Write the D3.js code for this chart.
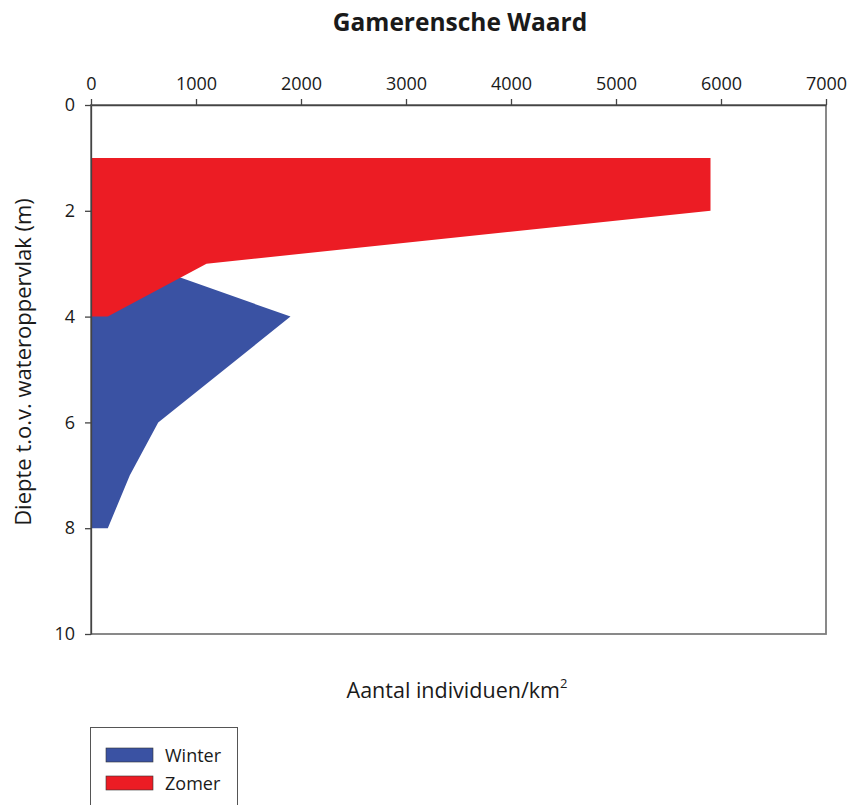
<!DOCTYPE html>
<html>
<head>
<meta charset="utf-8">
<script src="https://cdn.jsdelivr.net/npm/d3@7"></script>
<style>
  body { margin: 0; background: #fff; }
  svg { display: block; font-family: "Open Sans", Carlito, sans-serif; }
</style>
</head>
<body>
<div id="chart"></div>
<script>
// depth (m) below water surface, individuals per km2
const zomerDepth = [1, 2, 3, 4]
const zomerValue = [5900, 5900, 1100, 160]

const winterDepth = [3, 4, 6, 7, 8]
const winterValue = [480, 1900, 640, 370, 160]

const xTicks = [0, 1000, 2000, 3000, 4000, 5000, 6000, 7000]
const yTicks = [0, 2, 4, 6, 8, 10]

const width = 849
const height = 805
const margin = {top: 105, right: 23, bottom: 171, left: 91}

const svg = d3.select("#chart")
  .append("svg")
  .attr("width", width)
  .attr("height", height)

const x = d3.scaleLinear().domain([0, 7000]).range([margin.left, width - margin.right])
const y = d3.scaleLinear().domain([0, 10]).range([margin.top, height - margin.bottom])

const area = d3.area()
  .y(d => y(d.depth))
  .x0(x(0))
  .x1(d => x(d.value))

const winter = winterDepth.map((d, i) => ({depth: d, value: winterValue[i]}))
const zomer = zomerDepth.map((d, i) => ({depth: d, value: zomerValue[i]}))

svg.append("path")
  .attr("d", area(winter))
  .attr("fill", "#3A52A3")

svg.append("path")
  .attr("d", area(zomer))
  .attr("fill", "#EC1C24")

// frame (right and bottom edges are grey)
svg.append("rect")
  .attr("x", x(0))
  .attr("y", y(0))
  .attr("width", x(7000) - x(0))
  .attr("height", y(10) - y(0))
  .attr("fill", "none")
  .attr("stroke", "#7d7d7d")
  .attr("stroke-width", 1.8)

const xAxis = svg.append("g")
  .attr("transform", `translate(0,${y(0)})`)
  .call(d3.axisTop(x).tickValues(xTicks).tickSizeInner(6).tickSizeOuter(0).tickPadding(9).tickFormat(d3.format("d")))
  .attr("font-family", null)
  .attr("font-size", 18)
xAxis.select(".domain").attr("stroke", "#444").attr("stroke-width", 1.3)
xAxis.selectAll(".tick line").attr("stroke", "#444").attr("stroke-width", 1.3)
xAxis.selectAll("text").attr("fill", "#1a1a1a")

const yAxis = svg.append("g")
  .attr("transform", `translate(${x(0)},0)`)
  .call(d3.axisLeft(y).tickValues(yTicks).tickSizeInner(6).tickSizeOuter(0).tickPadding(10))
  .attr("font-family", null)
  .attr("font-size", 18)
yAxis.select(".domain").attr("stroke", "#444").attr("stroke-width", 1.3)
yAxis.selectAll(".tick line").attr("stroke", "#444").attr("stroke-width", 1.3)
yAxis.selectAll("text").attr("fill", "#1a1a1a")

svg.append("text")
  .attr("x", 460)
  .attr("y", 31)
  .attr("text-anchor", "middle")
  .attr("font-size", 24.5)
  .attr("font-weight", "bold")
  .attr("fill", "#1a1a1a")
  .text("Gamerensche Waard")

const xl = svg.append("text")
  .attr("x", 457)
  .attr("y", 698)
  .attr("text-anchor", "middle")
  .attr("font-size", 21.5)
  .attr("fill", "#1a1a1a")
xl.append("tspan").text("Aantal individuen/km")
xl.append("tspan").attr("font-size", 13).attr("dy", -10).text("2")

svg.append("text")
  .attr("transform", `translate(31,362) rotate(-90)`)
  .attr("text-anchor", "middle")
  .attr("font-size", 22)
  .attr("fill", "#1a1a1a")
  .text("Diepte t.o.v. wateroppervlak (m)")

// legend
svg.append("rect")
  .attr("x", 90.5).attr("y", 727.5)
  .attr("width", 147).attr("height", 90)
  .attr("fill", "#fff")
  .attr("stroke", "#555")

const legendItems = [
  {name: "Winter", color: "#3A52A3"},
  {name: "Zomer", color: "#EC1C24"}
]
const li = svg.selectAll(".li")
  .data(legendItems)
  .join("g")
  .attr("transform", (d, i) => `translate(106,${748 + i * 28})`)
li.append("rect")
  .attr("width", 47).attr("height", 14)
  .attr("fill", d => d.color)
  .attr("stroke", "#333").attr("stroke-width", 0.6)
li.append("text")
  .attr("x", 59).attr("y", 14)
  .attr("font-size", 18)
  .attr("fill", "#1a1a1a")
  .text(d => d.name)
</script>
</body>
</html>
